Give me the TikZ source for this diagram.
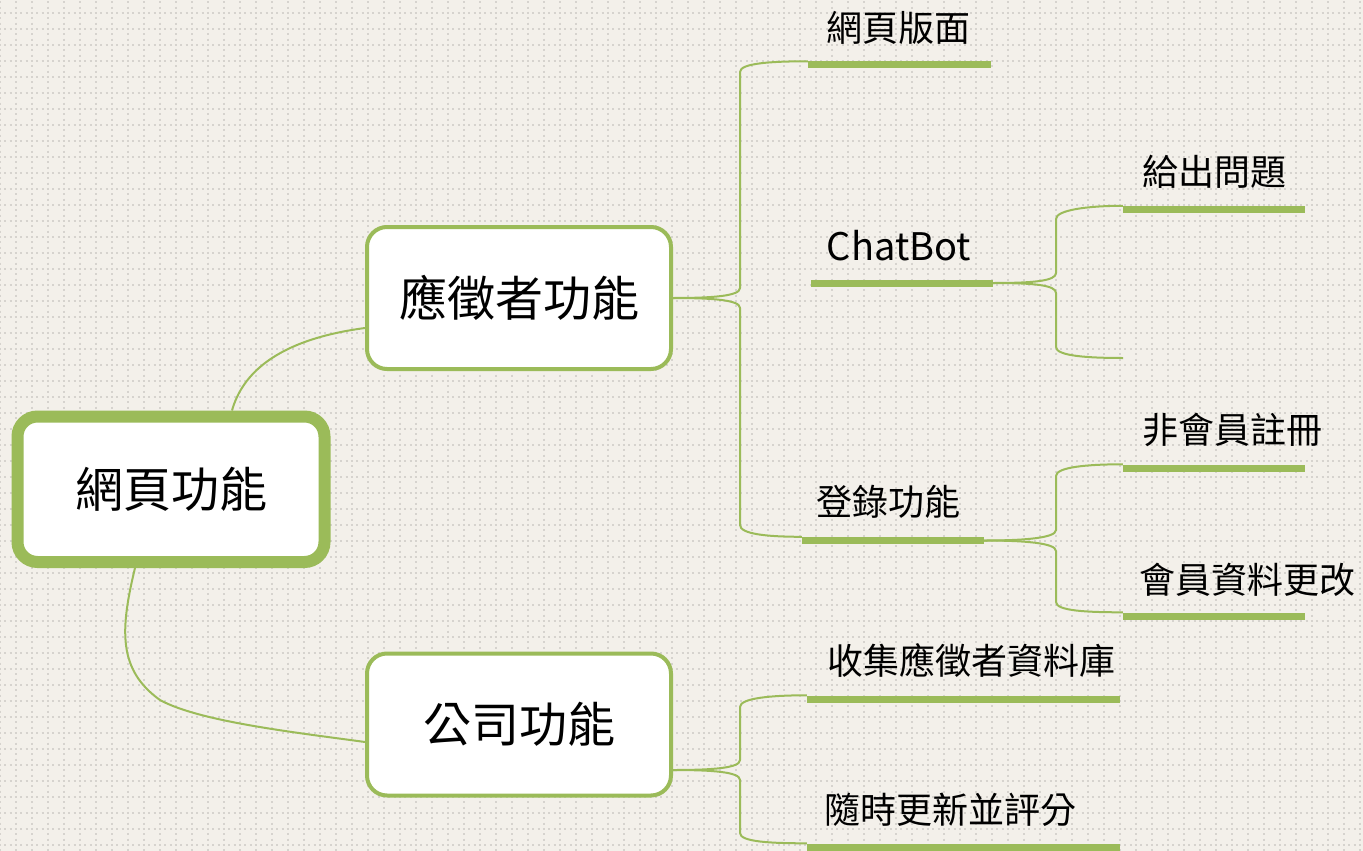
\documentclass[tikz,border=0pt]{standalone}
\usepackage{fontspec}
\setmainfont{Noto Sans CJK TC}
\definecolor{bg}{RGB}{243,240,234}
\definecolor{dotc}{RGB}{214,211,206}
\definecolor{grn}{RGB}{155,187,89}
\pgfdeclarelayer{bglayer}
\pgfdeclarelayer{connlayer}
\pgfsetlayers{bglayer,connlayer,main}
\begin{document}
\begin{tikzpicture}[x=1pt,y=-1pt,
  conn/.style={draw=grn,line width=2pt},
  barnode/.style={fill=grn,draw=none,inner sep=0pt,minimum height=7pt},
  rootbox/.style={draw=grn,fill=white,line width=12pt,rounded corners=20pt,
    minimum width=307pt,minimum height=145.5pt,inner sep=0pt,font=\fontsize{48}{56}\selectfont},
  subbox/.style={draw=grn,fill=white,line width=4pt,rounded corners=20pt,
    minimum width=304pt,minimum height=142pt,inner sep=0pt,font=\fontsize{48}{56}\selectfont},
  leaf/.style={inner sep=0pt,font=\fontsize{36}{42}\selectfont},
  dots/.style={draw=dotc,line width=2pt,dash pattern=on 2pt off 3.333pt}
]
\useasboundingbox (0,0) rectangle (1363,851);
\begin{pgfonlayer}{bglayer}
  \fill[bg] (0,0) rectangle (1363,851);
  \foreach \i in {0,...,85} {\draw[dots] (16*\i,-4) -- (16*\i,855);}
  \foreach \j in {0,...,52} {\draw[dots] (-1,13+16*\j) -- (1365,13+16*\j);}
\end{pgfonlayer}

% main boxes
\node[rootbox] (root) at (171,489.25) {網頁功能};
\node[subbox] (A) at (519,298) {應徵者功能};
\node[subbox] (B) at (519,724.5) {公司功能};

% bars
\node[barnode,minimum width=183pt] (bWeb) at (899.5,65) {};
\node[barnode,minimum width=182pt] (bChat) at (902,283) {};
\node[barnode,minimum width=182pt] (bGive) at (1214,209.5) {};
\node[barnode,minimum width=182pt] (bNon) at (1214,468) {};
\node[barnode,minimum width=182pt] (bLogin) at (893,540.5) {};
\node[barnode,minimum width=182pt] (bMem) at (1214,616) {};
\node[barnode,minimum width=313pt] (bColl) at (963.5,699) {};
\node[barnode,minimum width=313pt] (bUpd) at (963.5,847) {};
\coordinate (bEmpty) at (1123,358);

% labels
\node[leaf] (tWeb) at (898,28) {網頁版面};
\node[leaf,font=\fontsize{38}{44}\selectfont] (tChat) at (899,246) {ChatBot};
\node[leaf] (tGive) at (1214,172) {給出問題};
\node[leaf] (tNon) at (1232,430) {非會員註冊};
\node[leaf] (tLogin) at (888,502) {登錄功能};
\node[leaf] (tMem) at (1247,580) {會員資料更改};
\node[leaf] (tColl) at (971,661) {收集應徵者資料庫};
\node[leaf] (tUpd) at (950,810) {隨時更新並評分};

\begin{pgfonlayer}{connlayer}
  % root to sub boxes
  \draw[conn] ([xshift=61pt]root.north) .. controls (242,375) and (275,340) .. ([yshift=-30pt]A.west);
  \draw[conn] ([xshift=-36pt]root.south) .. controls (120,630) and (118,670) .. (160,700)
     .. controls (200,722) and (300,733) .. ([yshift=-17.5pt]B.west);
  % applicant bracket
  \draw[conn] (A.east) .. controls +(40,0) and +(0,8) .. (740,288) -- (740,72)
     .. controls +(0,-9) and +(-35,0) .. (bWeb.north west);
  \draw[conn] (A.east) .. controls +(40,0) and +(0,-8) .. (740,308) -- (740,525)
     .. controls +(0,9) and +(-35,0) .. (bLogin.north west);
  % chatbot bracket
  \draw[conn] (bChat.east) .. controls +(40,0) and +(0,8) .. (1056,273) -- (1056,219)
     .. controls +(0,-9) and +(-35,0) .. (bGive.north west);
  \draw[conn] (bChat.east) .. controls +(40,0) and +(0,-8) .. (1056,293) -- (1056,347)
     .. controls +(0,9) and +(-35,0) .. (bEmpty);
  % login bracket
  \draw[conn] (bLogin.east) .. controls +(40,0) and +(0,8) .. (1056,530) -- (1056,476)
     .. controls +(0,-9) and +(-35,0) .. (bNon.north west);
  \draw[conn] (bLogin.east) .. controls +(40,0) and +(0,-8) .. (1056,551) -- (1056,602)
     .. controls +(0,9) and +(-35,0) .. (bMem.north west);
  % company bracket
  \draw[conn] ([yshift=-45.5pt]B.east) .. controls +(40,0) and +(0,8) .. (740,760) -- (740,707)
     .. controls +(0,-9) and +(-35,0) .. (bColl.north west);
  \draw[conn] ([yshift=-45.5pt]B.east) .. controls +(40,0) and +(0,-8) .. (740,780) -- (740,833)
     .. controls +(0,9) and +(-35,0) .. (bUpd.north west);
\end{pgfonlayer}
\end{tikzpicture}
\end{document}
